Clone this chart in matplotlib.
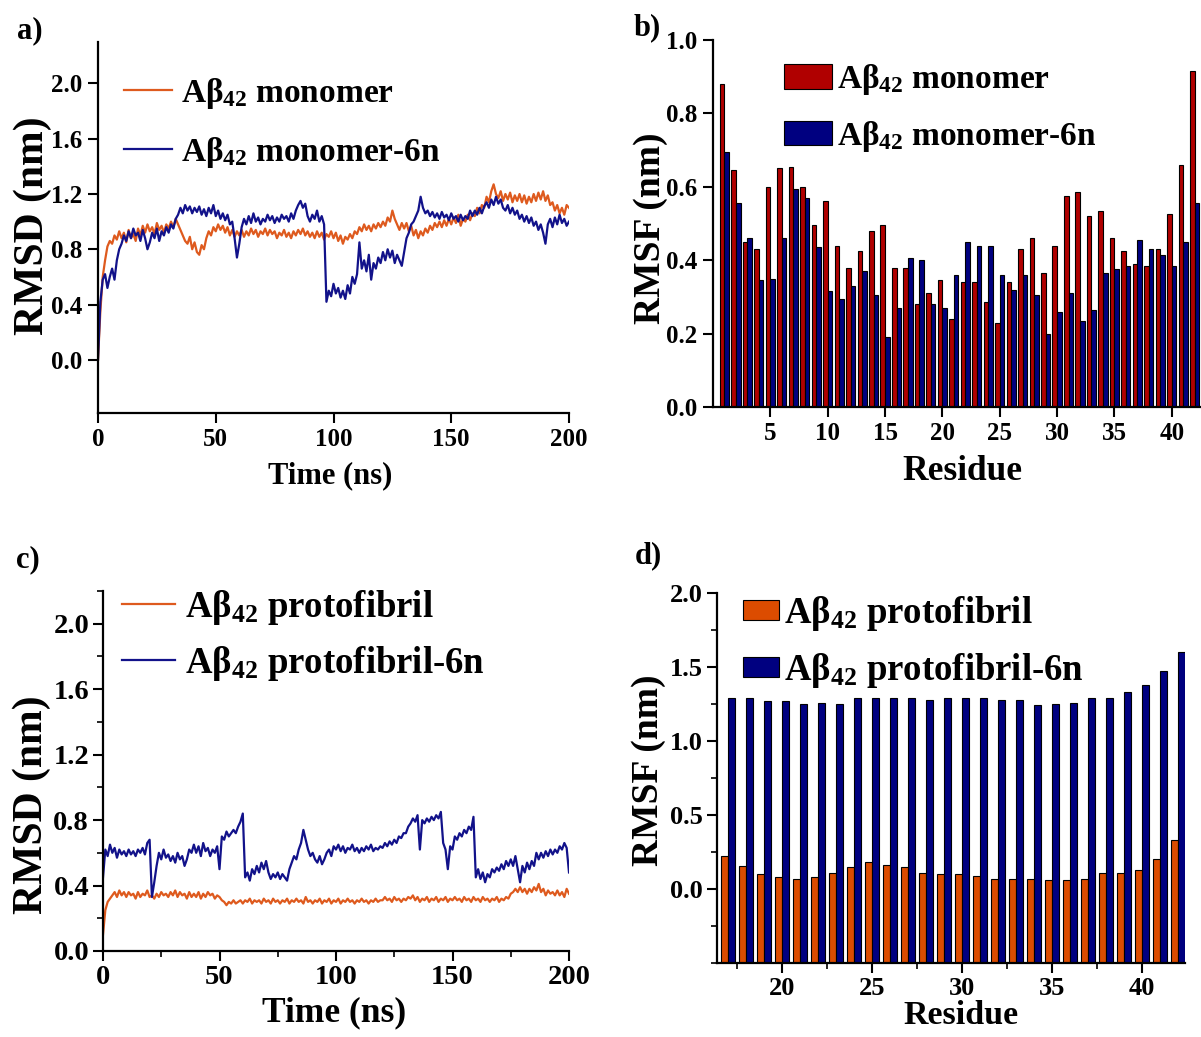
import numpy as np
import matplotlib
matplotlib.use('Agg')
import matplotlib.pyplot as plt
from matplotlib.ticker import MultipleLocator, FormatStrFormatter

plt.rcParams['font.family'] = ['Liberation Serif', 'DejaVu Serif']
plt.rcParams['font.weight'] = 'bold'
plt.rcParams['mathtext.fontset'] = 'custom'
plt.rcParams['mathtext.rm'] = 'Liberation Serif:bold'
plt.rcParams['mathtext.it'] = 'Liberation Serif:bold'
plt.rcParams['mathtext.bf'] = 'Liberation Serif:bold'
plt.rcParams['mathtext.default'] = 'rm'

# ---------------- data ----------------
time_ns = np.arange(0, 201, 1)

rmsd_monomer = [
    0.00, 0.35, 0.60, 0.72, 0.82, 0.86, 0.84, 0.90, 0.87, 0.93,
    0.88, 0.92, 0.85, 0.94, 0.88, 0.91, 0.86, 0.95, 0.90, 0.97,
    0.92, 0.98, 0.93, 0.96, 0.91, 0.99, 0.94, 0.97, 0.92, 0.98,
    0.95, 1.00, 0.96, 1.02, 0.98, 0.94, 0.90, 0.86, 0.84, 0.89,
    0.80, 0.85, 0.78, 0.76, 0.83, 0.80, 0.88, 0.93, 0.90, 0.96,
    0.93, 0.98, 0.94, 0.97, 0.92, 0.96, 0.90, 0.94, 0.89, 0.93,
    0.90, 0.94, 0.89, 0.93, 0.90, 0.95, 0.91, 0.94, 0.89, 0.93,
    0.91, 0.95, 0.90, 0.94, 0.91, 0.93, 0.88, 0.92, 0.90, 0.94,
    0.89, 0.92, 0.88, 0.93, 0.90, 0.94, 0.91, 0.95, 0.90, 0.93,
    0.89, 0.92, 0.88, 0.93, 0.89, 0.92, 0.87, 0.91, 0.89, 0.93,
    0.88, 0.92, 0.86, 0.90, 0.84, 0.89, 0.87, 0.91, 0.88, 0.93,
    0.91, 0.96, 0.93, 0.98, 0.94, 0.97, 0.93, 0.98, 0.95, 0.99,
    0.96, 1.00, 0.97, 1.03, 1.00, 1.08, 1.02, 0.98, 0.94, 0.99,
    0.95, 0.99, 0.93, 0.97, 0.90, 0.94, 0.88, 0.93, 0.90, 0.95,
    0.92, 0.97, 0.94, 0.99, 0.96, 1.00, 0.96, 1.01, 0.97, 1.02,
    0.98, 1.03, 0.99, 1.05, 0.97, 1.02, 1.00, 1.05, 1.01, 1.06,
    1.04, 1.10, 1.06, 1.12, 1.10, 1.18, 1.14, 1.22, 1.27, 1.20,
    1.17, 1.22, 1.15, 1.20, 1.16, 1.21, 1.14, 1.19, 1.15, 1.20,
    1.14, 1.19, 1.13, 1.18, 1.14, 1.20, 1.15, 1.21, 1.16, 1.22,
    1.15, 1.19, 1.12, 1.14, 1.08, 1.12, 1.06, 1.10, 1.05, 1.12,
    1.10]

rmsd_monomer_6n = [
    0.00, 0.42, 0.58, 0.62, 0.52, 0.60, 0.66, 0.58, 0.72, 0.80,
    0.84, 0.90, 0.86, 0.93, 0.88, 0.95, 0.90, 0.92, 0.86, 0.94,
    0.88, 0.80, 0.85, 0.92, 0.88, 0.95, 0.86, 0.93, 0.90, 0.96,
    0.92, 0.98, 0.95, 1.02, 1.05, 1.10, 1.06, 1.12, 1.08, 1.11,
    1.06, 1.10, 1.07, 1.11, 1.05, 1.09, 1.04, 1.10, 1.06, 1.12,
    1.04, 1.08, 1.02, 1.06, 1.01, 1.05, 0.98, 1.00, 0.88, 0.74,
    0.84, 0.96, 1.02, 0.98, 1.04, 0.99, 1.06, 1.00, 1.03, 0.98,
    1.02, 1.00, 1.05, 1.01, 1.04, 0.99, 1.03, 1.00, 1.05, 1.02,
    1.04, 1.00, 1.06, 1.02, 1.08, 1.12, 1.15, 1.10, 1.13, 1.04,
    1.00, 1.05, 1.02, 1.08, 1.00, 1.04, 0.98, 0.42, 0.50, 0.46,
    0.55, 0.48, 0.52, 0.45, 0.50, 0.44, 0.54, 0.48, 0.60, 0.55,
    0.62, 0.85, 0.66, 0.72, 0.64, 0.76, 0.58, 0.70, 0.66, 0.74,
    0.70, 0.78, 0.72, 0.80, 0.74, 0.79, 0.70, 0.76, 0.72, 0.68,
    0.78, 0.88, 0.92, 0.98, 1.00, 1.04, 1.08, 1.18, 1.10, 1.06,
    1.08, 1.04, 1.07, 1.03, 1.06, 1.02, 1.07, 1.03, 1.05, 1.01,
    1.06, 1.02, 1.04, 1.00, 1.05, 1.01, 1.04, 1.02, 1.08, 1.04,
    1.08, 1.05, 1.10, 1.06, 1.11, 1.14, 1.10, 1.16, 1.12, 1.18,
    1.13, 1.16, 1.10, 1.08, 1.12, 1.06, 1.10, 1.05, 1.08, 1.02,
    1.05, 1.00, 1.04, 0.99, 1.03, 0.97, 1.00, 0.94, 0.98, 0.92,
    0.84, 0.98, 1.02, 0.96, 1.03, 0.98, 1.05, 0.99, 1.02, 0.97,
    1.00]

rmsd_protofibril = [
    0.10, 0.25, 0.30, 0.32, 0.34, 0.36, 0.33, 0.37, 0.34, 0.36,
    0.33, 0.36, 0.34, 0.35, 0.32, 0.36, 0.33, 0.35, 0.34, 0.37,
    0.33, 0.34, 0.32, 0.35, 0.33, 0.36, 0.34, 0.35, 0.33, 0.36,
    0.34, 0.37, 0.33, 0.36, 0.34, 0.35, 0.32, 0.36, 0.33, 0.35,
    0.33, 0.36, 0.32, 0.35, 0.33, 0.36, 0.34, 0.35, 0.32, 0.34,
    0.33, 0.31, 0.30, 0.28, 0.30, 0.29, 0.31, 0.29, 0.30, 0.31,
    0.29, 0.31, 0.30, 0.32, 0.29, 0.31, 0.30, 0.31, 0.29, 0.32,
    0.30, 0.31, 0.29, 0.32, 0.30, 0.31, 0.29, 0.31, 0.30, 0.32,
    0.29, 0.31, 0.30, 0.32, 0.30, 0.31, 0.29, 0.33, 0.30, 0.31,
    0.29, 0.31, 0.30, 0.32, 0.29, 0.31, 0.30, 0.32, 0.29, 0.31,
    0.30, 0.32, 0.29, 0.31, 0.30, 0.32, 0.30, 0.31, 0.29, 0.31,
    0.30, 0.32, 0.30, 0.31, 0.29, 0.31, 0.30, 0.32, 0.30, 0.31,
    0.31, 0.33, 0.31, 0.32, 0.30, 0.33, 0.31, 0.32, 0.30, 0.32,
    0.31, 0.33, 0.32, 0.34, 0.31, 0.33, 0.30, 0.32, 0.31, 0.33,
    0.30, 0.32, 0.31, 0.33, 0.30, 0.32, 0.31, 0.33, 0.30, 0.32,
    0.31, 0.33, 0.31, 0.32, 0.30, 0.33, 0.31, 0.32, 0.30, 0.33,
    0.31, 0.32, 0.30, 0.33, 0.31, 0.32, 0.30, 0.32, 0.31, 0.33,
    0.30, 0.32, 0.31, 0.33, 0.32, 0.35, 0.36, 0.38, 0.36, 0.39,
    0.36, 0.38, 0.35, 0.38, 0.36, 0.39, 0.37, 0.41, 0.36, 0.38,
    0.34, 0.37, 0.35, 0.36, 0.34, 0.37, 0.34, 0.36, 0.33, 0.38,
    0.35]

rmsd_protofibril_6n = [
    0.45, 0.62, 0.58, 0.65, 0.60, 0.63, 0.57, 0.62, 0.59, 0.61,
    0.58, 0.62, 0.59, 0.61, 0.58, 0.62, 0.60, 0.63, 0.59, 0.66,
    0.68, 0.33, 0.42, 0.52, 0.60, 0.56, 0.62, 0.57, 0.59, 0.55,
    0.58, 0.54, 0.60, 0.56, 0.58, 0.52, 0.56, 0.62, 0.60, 0.65,
    0.60, 0.64, 0.58, 0.66, 0.61, 0.63, 0.58, 0.62, 0.60, 0.64,
    0.50, 0.70, 0.68, 0.73, 0.70, 0.72, 0.74, 0.72, 0.76, 0.79,
    0.84, 0.45, 0.48, 0.43, 0.50, 0.47, 0.52, 0.48, 0.54, 0.50,
    0.55, 0.48, 0.44, 0.47, 0.45, 0.48, 0.44, 0.47, 0.45, 0.43,
    0.50, 0.54, 0.58, 0.56, 0.62, 0.66, 0.74, 0.68, 0.62, 0.58,
    0.60, 0.56, 0.54, 0.58, 0.53, 0.56, 0.60, 0.62, 0.58, 0.64,
    0.62, 0.65, 0.61, 0.64, 0.60, 0.63, 0.62, 0.65, 0.61, 0.63,
    0.60, 0.63, 0.61, 0.64, 0.62, 0.65, 0.61, 0.63, 0.62, 0.64,
    0.63, 0.66, 0.64, 0.67, 0.65, 0.68, 0.66, 0.70, 0.69, 0.72,
    0.72, 0.76, 0.78, 0.81, 0.79, 0.83, 0.62, 0.80, 0.78, 0.81,
    0.79, 0.82, 0.80, 0.83, 0.81, 0.85, 0.66, 0.62, 0.50, 0.64,
    0.62, 0.70, 0.68, 0.72, 0.70, 0.74, 0.72, 0.76, 0.74, 0.82,
    0.45, 0.50, 0.44, 0.48, 0.42, 0.47, 0.45, 0.50, 0.48, 0.51,
    0.49, 0.53, 0.50, 0.55, 0.52, 0.56, 0.52, 0.58, 0.50, 0.42,
    0.52, 0.48, 0.54, 0.50, 0.55, 0.52, 0.60, 0.56, 0.60, 0.57,
    0.61, 0.58, 0.62, 0.59, 0.62, 0.60, 0.64, 0.62, 0.66, 0.63,
    0.48]

residue_monomer = np.arange(1, 43)
rmsf_monomer = [0.88, 0.645, 0.45, 0.43, 0.60, 0.65, 0.655, 0.60, 0.495, 0.56,
                0.44, 0.38, 0.425, 0.48, 0.495, 0.38, 0.38, 0.28, 0.31, 0.345,
                0.24, 0.34, 0.34, 0.285, 0.23, 0.34, 0.43, 0.46, 0.365, 0.44,
                0.575, 0.585, 0.52, 0.535, 0.46, 0.425, 0.39, 0.385, 0.43, 0.525,
                0.66, 0.915]
rmsf_monomer_6n = [0.695, 0.555, 0.46, 0.345, 0.35, 0.46, 0.595, 0.57, 0.435, 0.315,
                   0.295, 0.33, 0.37, 0.305, 0.19, 0.27, 0.405, 0.40, 0.28, 0.27,
                   0.36, 0.45, 0.44, 0.44, 0.36, 0.32, 0.36, 0.305, 0.20, 0.26,
                   0.31, 0.235, 0.265, 0.365, 0.375, 0.385, 0.455, 0.43, 0.415, 0.385,
                   0.45, 0.555]

residue_protofibril = np.arange(17, 43)
rmsf_protofibril = [0.225, 0.155, 0.10, 0.08, 0.07, 0.08, 0.11, 0.15, 0.18, 0.16,
                    0.15, 0.11, 0.10, 0.10, 0.09, 0.07, 0.07, 0.07, 0.06, 0.06,
                    0.07, 0.11, 0.11, 0.13, 0.20, 0.33]
rmsf_protofibril_6n = [1.29, 1.29, 1.27, 1.27, 1.25, 1.26, 1.25, 1.29, 1.29, 1.29,
                       1.29, 1.28, 1.29, 1.29, 1.29, 1.28, 1.28, 1.24, 1.25, 1.26,
                       1.29, 1.29, 1.33, 1.38, 1.47, 1.60]

ORANGE = '#de5a1e'
NAVY = '#12128a'
BAR_RED = '#b00000'
BAR_ORANGE = '#dc4c00'
BAR_NAVY = '#000080'

W, H = 1201, 1037
fig = plt.figure(figsize=(W / 100, H / 100), dpi=100)


def add_axes_px(left, top, right, bottom):
    return fig.add_axes([left / W, 1 - bottom / H, (right - left) / W, (bottom - top) / H])


def style_axes(ax, lab_size, pad=4):
    for s in ['top', 'right']:
        ax.spines[s].set_visible(False)
    for s in ['left', 'bottom']:
        ax.spines[s].set_linewidth(1.6)
    ax.tick_params(which='major', direction='out', length=7, width=1.5, labelsize=lab_size, pad=pad)
    ax.tick_params(which='minor', direction='out', length=4, width=1.2)
    ax.yaxis.set_major_formatter(FormatStrFormatter('%.1f'))


def place_labels(ax, box, xlab, xpos, xsize, ylab, ypos, ysize):
    left, top, right, bottom = box
    ax.set_xlabel(xlab, fontsize=xsize, fontweight='bold')
    ax.set_ylabel(ylab, fontsize=ysize, fontweight='bold')
    ax.xaxis.set_label_coords((xpos[0] - left) / (right - left), (bottom - xpos[1]) / (bottom - top))
    ax.yaxis.set_label_coords((ypos[0] - left) / (right - left), (bottom - ypos[1]) / (bottom - top))
    ax.xaxis.label.set_va('center')
    ax.yaxis.label.set_va('center')


def anchor(box, x, y):
    left, top, right, bottom = box
    return ((x - left) / (right - left), (bottom - y) / (bottom - top))


# ---------------- a) ----------------
box_a = (98, 42, 569, 413)
ax_a = add_axes_px(*box_a)
ax_a.plot(time_ns, rmsd_monomer, color=ORANGE, lw=1.6, label=r'A$\beta_{42}$ monomer')
ax_a.plot(time_ns, rmsd_monomer_6n, color=NAVY, lw=1.6, label=r'A$\beta_{42}$ monomer-6n')
ax_a.set_xlim(0, 200)
ax_a.set_ylim(-0.385, 2.3)
ax_a.set_xticks([0, 50, 100, 150, 200])
ax_a.set_yticks([0.0, 0.4, 0.8, 1.2, 1.6, 2.0])
style_axes(ax_a, 18)
place_labels(ax_a, box_a, 'Time (ns)', (330, 476), 22, 'RMSD (nm)', (33, 226), 30)
ax_a.legend(loc='upper left', bbox_to_anchor=anchor(box_a, 124, 76), frameon=False,
            fontsize=24, handlelength=1.45, handletextpad=0.25, labelspacing=0.72, borderpad=0,
            borderaxespad=0)

# ---------------- b) ----------------
box_b = (713, 40, 1201, 407)
ax_b = add_axes_px(*box_b)
ax_b.bar(residue_monomer - 0.2, rmsf_monomer, width=0.4, color=BAR_RED, edgecolor='black', lw=0.8,
         label=r'A$\beta_{42}$ monomer')
ax_b.bar(residue_monomer + 0.2, rmsf_monomer_6n, width=0.4, color=BAR_NAVY, edgecolor='black', lw=0.8,
         label=r'A$\beta_{42}$ monomer-6n')
ax_b.set_xlim(0, 42.55)
ax_b.set_ylim(0, 1.0)
ax_b.set_xticks([5, 10, 15, 20, 25, 30, 35, 40])
ax_b.set_yticks([0.0, 0.2, 0.4, 0.6, 0.8, 1.0])
style_axes(ax_b, 18)
place_labels(ax_b, box_b, 'Residue', (962, 471), 25.5, 'RMSF (nm)', (650, 228), 27)
ax_b.legend(loc='upper left', bbox_to_anchor=anchor(box_b, 784, 62), frameon=False,
            fontsize=24, handlelength=1.45, handleheight=0.75, handletextpad=0.15, labelspacing=0.65,
            borderpad=0, borderaxespad=0)

# ---------------- c) ----------------
box_c = (103, 591, 569, 951)
ax_c = add_axes_px(*box_c)
ax_c.plot(time_ns, rmsd_protofibril, color=ORANGE, lw=1.6, label=r'A$\beta_{42}$ protofibril')
ax_c.plot(time_ns, rmsd_protofibril_6n, color=NAVY, lw=1.6, label=r'A$\beta_{42}$ protofibril-6n')
ax_c.set_xlim(0, 200)
ax_c.set_ylim(0, 2.2)
ax_c.set_xticks([0, 50, 100, 150, 200])
ax_c.set_yticks([0.0, 0.4, 0.8, 1.2, 1.6, 2.0])
ax_c.xaxis.set_minor_locator(MultipleLocator(25))
ax_c.yaxis.set_minor_locator(MultipleLocator(0.2))
style_axes(ax_c, 20.5, pad=3)
place_labels(ax_c, box_c, 'Time (ns)', (334, 1013), 25.5, 'RMSD (nm)', (32, 805), 30)
ax_c.legend(loc='upper left', bbox_to_anchor=anchor(box_c, 122, 588), frameon=False,
            fontsize=26.5, handlelength=1.45, handletextpad=0.25, labelspacing=0.45, borderpad=0,
            borderaxespad=0)

# ---------------- d) ----------------
box_d = (717, 593, 1185, 963)
ax_d = add_axes_px(*box_d)
ax_d.bar(residue_protofibril - 0.2, np.array(rmsf_protofibril) + 0.5, bottom=-0.5, width=0.4,
         color=BAR_ORANGE, edgecolor='black', lw=0.8, label=r'A$\beta_{42}$ protofibril')
ax_d.bar(residue_protofibril + 0.2, np.array(rmsf_protofibril_6n) + 0.5, bottom=-0.5, width=0.4,
         color=BAR_NAVY, edgecolor='black', lw=0.8, label=r'A$\beta_{42}$ protofibril-6n')
ax_d.set_xlim(16.4, 42.4)
ax_d.set_ylim(-0.5, 2.0)
ax_d.set_xticks([20, 25, 30, 35, 40])
ax_d.set_yticks([0.0, 0.5, 1.0, 1.5, 2.0])
ax_d.xaxis.set_minor_locator(MultipleLocator(2.5))
ax_d.yaxis.set_minor_locator(MultipleLocator(0.25))
style_axes(ax_d, 19, pad=3)
place_labels(ax_d, box_d, 'Residue', (961, 1016), 24.5, 'RMSF (nm)', (649, 770), 27)
ax_d.legend(loc='upper left', bbox_to_anchor=anchor(box_d, 743, 594), frameon=False,
            fontsize=26.5, handlelength=0.97, handleheight=0.45, handletextpad=0.15, labelspacing=0.5,
            borderpad=0, borderaxespad=0)

# panel letters
for txt, x, y in [('a)', 30, 31), ('b)', 647, 28), ('c)', 28, 560), ('d)', 648, 556)]:
    fig.text(x / W, 1 - y / H, txt, fontsize=22, fontweight='bold', ha='center', va='center')

fig.savefig('out.png', dpi=100)
